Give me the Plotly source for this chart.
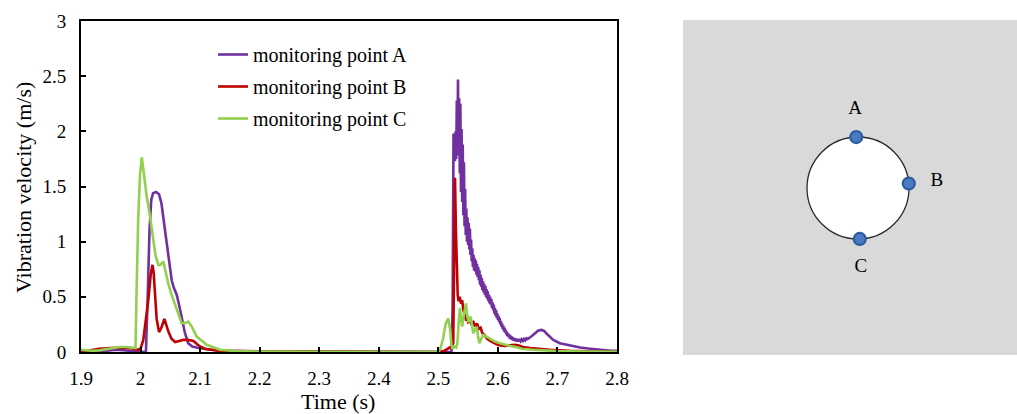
import math
import plotly.graph_objects as go

# ---------------- data ----------------
x_tick_vals = [1.9, 2.0, 2.1, 2.2, 2.3, 2.4, 2.5, 2.6, 2.7, 2.8]
x_tick_text = ["1.9", "2", "2.1", "2.2", "2.3", "2.4", "2.5", "2.6", "2.7", "2.8"]
y_tick_vals = [0, 0.5, 1, 1.5, 2, 2.5, 3]
y_tick_text = ["0", "0.5", "1", "1.5", "2", "2.5", "3"]

series_names = ["monitoring point A", "monitoring point B", "monitoring point C"]

t_a = [1.900, 1.930, 1.960, 1.980, 1.995, 2.000, 2.009, 2.012, 2.015, 2.018, 2.021, 2.026,
       2.031, 2.035, 2.038, 2.042, 2.0466, 2.050, 2.0523, 2.056, 2.0607, 2.065, 2.069, 2.0746,
       2.080, 2.087, 2.094, 2.105, 2.117, 2.140, 2.200, 2.300, 2.400, 2.500, 2.522, 2.524, 2.5255,
       2.526, 2.527, 2.528, 2.529, 2.530, 2.531, 2.532, 2.533, 2.534, 2.535, 2.536, 2.537,
       2.538, 2.539, 2.540, 2.541, 2.542, 2.543, 2.544, 2.545, 2.546, 2.547, 2.548, 2.549,
       2.550, 2.551, 2.552, 2.553, 2.554, 2.555, 2.556, 2.557, 2.558, 2.559,
       2.560, 2.561, 2.562, 2.563, 2.564, 2.565, 2.566, 2.567, 2.568, 2.569,
       2.570, 2.571, 2.572, 2.573, 2.574, 2.575, 2.576, 2.577, 2.578, 2.579,
       2.580, 2.581, 2.582, 2.583, 2.584, 2.585, 2.586, 2.587, 2.588, 2.589,
       2.590, 2.591, 2.592, 2.593, 2.594, 2.595, 2.596, 2.597, 2.598, 2.599,
       2.600, 2.601, 2.602, 2.603, 2.604, 2.605, 2.606, 2.607, 2.608, 2.609,
       2.610, 2.611, 2.612, 2.613, 2.614, 2.615, 2.616, 2.617, 2.618, 2.619,
       2.620, 2.621, 2.622, 2.623, 2.624, 2.625, 2.626, 2.627, 2.628, 2.629,
       2.630, 2.632, 2.634, 2.636, 2.638, 2.640, 2.642, 2.644, 2.646, 2.648, 2.650,
       2.656, 2.662, 2.668, 2.6735, 2.678, 2.682, 2.688, 2.693, 2.704, 2.721, 2.738, 2.755,
       2.771, 2.790, 2.800]
v_a = [0.000, 0.005, 0.020, 0.010, 0.005, 0.000, 0.000, 0.500, 1.100, 1.380, 1.440, 1.450,
       1.430, 1.350, 1.230, 1.080, 0.920, 0.750, 0.650, 0.580, 0.520, 0.420, 0.320, 0.170,
       0.080, 0.050, 0.040, 0.030, 0.020, 0.012, 0.006, 0.004, 0.003, 0.002, 0.000, 0.400, 1.980,
       1.740, 1.980, 1.730, 2.000, 1.750, 2.280, 1.780, 2.470, 1.800, 2.300, 1.620, 2.250,
       1.450, 2.020, 1.360, 1.880, 1.240, 1.720, 1.140, 1.480, 1.060, 1.300, 1.000, 1.220,
       0.970, 1.170, 0.930, 1.120, 0.880, 1.020, 0.820, 0.940, 0.770, 0.880,
       0.740, 0.850, 0.730, 0.830, 0.700, 0.800, 0.680, 0.770, 0.650, 0.740,
       0.610, 0.700, 0.590, 0.670, 0.560, 0.640, 0.540, 0.620, 0.520, 0.600,
       0.500, 0.570, 0.480, 0.550, 0.460, 0.520, 0.440, 0.500, 0.430, 0.480,
       0.400, 0.450, 0.380, 0.430, 0.350, 0.400, 0.330, 0.380, 0.310, 0.350,
       0.290, 0.330, 0.270, 0.310, 0.250, 0.280, 0.230, 0.260, 0.210, 0.240,
       0.190, 0.220, 0.175, 0.200, 0.160, 0.185, 0.145, 0.170, 0.135, 0.160,
       0.120, 0.150, 0.115, 0.140, 0.108, 0.135, 0.104, 0.128, 0.100, 0.124,
       0.097, 0.118, 0.096, 0.116, 0.098, 0.115, 0.100, 0.118, 0.106, 0.124, 0.118,
       0.140, 0.170, 0.195, 0.200, 0.190, 0.165, 0.135, 0.110, 0.080, 0.057, 0.040, 0.030,
       0.020, 0.012, 0.010]

t_b = [1.900, 1.910, 1.920, 1.930, 1.950, 1.970, 1.985, 1.995, 2.000, 2.0046, 2.009, 2.013,
       2.017, 2.020, 2.022, 2.024, 2.027, 2.031, 2.035, 2.040, 2.043, 2.047, 2.052, 2.058,
       2.065, 2.072, 2.080, 2.089, 2.095, 2.100, 2.108, 2.117, 2.130, 2.160, 2.200, 2.300,
       2.400, 2.500, 2.510, 2.516, 2.522, 2.525, 2.5265, 2.528, 2.5295, 2.531, 2.5325, 2.534,
       2.536, 2.538, 2.540, 2.542, 2.544, 2.546, 2.548, 2.550, 2.553, 2.556, 2.559, 2.562,
       2.565, 2.568, 2.571, 2.574, 2.578, 2.582, 2.587, 2.592, 2.598, 2.604, 2.612, 2.620,
       2.628, 2.634, 2.642, 2.654, 2.670, 2.688, 2.720, 2.760, 2.800]
v_b = [0.000, 0.010, 0.025, 0.030, 0.035, 0.040, 0.035, 0.020, 0.030, 0.110, 0.300, 0.470,
       0.700, 0.790, 0.720, 0.500, 0.300, 0.180, 0.220, 0.300, 0.250, 0.180, 0.120, 0.090,
       0.100, 0.110, 0.110, 0.100, 0.070, 0.050, 0.030, 0.020, 0.012, 0.008, 0.005, 0.003,
       0.002, 0.000, 0.010, 0.030, 0.050, 0.080, 0.900, 1.580, 1.100, 0.700, 0.520, 0.460,
       0.500, 0.440, 0.470, 0.380, 0.340, 0.300, 0.310, 0.270, 0.280, 0.250, 0.270, 0.230,
       0.260, 0.210, 0.220, 0.170, 0.150, 0.120, 0.100, 0.085, 0.070, 0.060, 0.055, 0.060,
       0.065, 0.060, 0.045, 0.035, 0.025, 0.020, 0.010, 0.004, 0.000]

t_c = [1.900, 1.910, 1.920, 1.930, 1.940, 1.955, 1.965, 1.975, 1.985, 1.9915, 1.9935, 1.996,
       1.999, 2.002, 2.006, 2.010, 2.0159, 2.020, 2.025, 2.0298, 2.033, 2.0382, 2.042, 2.0466,
       2.052, 2.0607, 2.0691, 2.074, 2.0802, 2.086, 2.0943, 2.1111, 2.1334, 2.160, 2.200,
       2.300, 2.400, 2.500, 2.5028, 2.508, 2.512, 2.5167, 2.520, 2.522, 2.524, 2.527, 2.530,
       2.532, 2.5345, 2.5363, 2.538, 2.540, 2.543, 2.5464, 2.548, 2.5503, 2.5523, 2.5543,
       2.5565, 2.5587, 2.5615, 2.5644, 2.5665, 2.5688, 2.572, 2.5755, 2.581, 2.5867, 2.595,
       2.6035, 2.612, 2.6203, 2.630, 2.640, 2.660, 2.680, 2.700, 2.750, 2.800]
v_c = [0.020, 0.015, 0.010, 0.015, 0.025, 0.035, 0.045, 0.045, 0.040, 0.035, 0.600, 1.200,
       1.600, 1.765, 1.600, 1.420, 1.230, 1.050, 0.880, 0.790, 0.790, 0.820, 0.720, 0.620,
       0.520, 0.380, 0.260, 0.260, 0.275, 0.230, 0.140, 0.065, 0.020, 0.008, 0.004,
       0.002, 0.001, 0.000, 0.020, 0.120, 0.250, 0.305, 0.200, 0.060, 0.030, 0.050, 0.040,
       0.080, 0.300, 0.400, 0.300, 0.230, 0.340, 0.440, 0.350, 0.270, 0.300, 0.320,
       0.240, 0.170, 0.200, 0.230, 0.150, 0.080, 0.120, 0.155, 0.140, 0.120, 0.095,
       0.080, 0.065, 0.055, 0.045, 0.030, 0.020, 0.012, 0.008, 0.004, 0.002]

# right-hand diagram: monitoring point positions on the tunnel section (angle, degrees)
point_labels = ["A", "B", "C"]
point_angles = [92, 5, -88]

# ---------------- styles ----------------
colors = ["#7030A0", "#C00000", "#92D050"]
FONT = "Liberation Serif, Times New Roman, serif"
W, H = 1017, 414

fig = go.Figure()
for name, t, v, c in zip(series_names, [t_a, t_b, t_c], [v_a, v_b, v_c], colors):
    fig.add_trace(go.Scatter(x=t, y=v, mode="lines", name=name,
                             line=dict(color=c, width=2.6), legendgroup=name,
                             xaxis="x", yaxis="y"))

# diagram: points on unit circle
R_MARK = 1.0
R_LABEL = 1.55
px_ = [R_MARK * math.cos(math.radians(a)) for a in point_angles]
py_ = [R_MARK * math.sin(math.radians(a)) for a in point_angles]
lx = [R_LABEL * math.cos(math.radians(a)) for a in point_angles]
ly = [R_LABEL * math.sin(math.radians(a)) for a in point_angles]

fig.add_trace(go.Scatter(x=px_, y=py_, mode="markers", showlegend=False,
                         marker=dict(size=12, color="#4A7BC2",
                                     line=dict(color="#2F5C9E", width=2.2)),
                         xaxis="x2", yaxis="y2"))
fig.add_trace(go.Scatter(x=lx, y=ly, mode="text", text=point_labels, showlegend=False,
                         textfont=dict(family=FONT, size=19, color="black"),
                         textposition="middle center",
                         xaxis="x2", yaxis="y2"))

# geometry
xl, xr, yt, yb = 81, 617, 21, 352
pl, pr, pt, pb = 683, 1017, 20, 355
R_px = 51
cx, cy = 858, 188

fig.update_layout(
    width=W, height=H,
    margin=dict(l=0, r=0, t=0, b=0),
    paper_bgcolor="white", plot_bgcolor="white",
    font=dict(family=FONT, size=19, color="black"),
    xaxis=dict(domain=[xl / W, xr / W], range=[1.9, 2.8], tickvals=x_tick_vals,
               ticktext=x_tick_text, ticks="inside", ticklen=5, tickwidth=1.5,
               tickcolor="black", showline=True, linecolor="black", linewidth=2,
               mirror=True, showgrid=False, zeroline=False, automargin=False,
               ticklabelstandoff=8, tickfont=dict(family=FONT, size=19)),
    yaxis=dict(domain=[1 - yb / H, 1 - yt / H], range=[0, 3], tickvals=y_tick_vals,
               ticktext=y_tick_text, ticks="inside", ticklen=5, tickwidth=1.5,
               tickcolor="black", showline=True, linecolor="black", linewidth=2,
               mirror=True, showgrid=False, zeroline=False, automargin=False,
               ticklabelstandoff=9, tickfont=dict(family=FONT, size=19)),
    xaxis2=dict(domain=[pl / W, pr / W],
                range=[-(cx - pl) / R_px, (pr - cx) / R_px],
                visible=False, fixedrange=True),
    yaxis2=dict(domain=[1 - pb / H, 1 - pt / H],
                range=[-(pb - cy) / R_px, (cy - pt) / R_px],
                visible=False, fixedrange=True),
    legend=dict(x=213 / W, y=1 - 35 / H, xanchor="left", yanchor="top",
                bgcolor="rgba(0,0,0,0)", font=dict(family=FONT, size=20),
                tracegroupgap=3, itemwidth=30),
    showlegend=True,
    shapes=[
        dict(type="rect", xref="x2 domain", yref="y2 domain", x0=0, x1=1, y0=0, y1=1,
             fillcolor="#D9D9D9", line=dict(width=0), layer="below"),
        dict(type="circle", xref="x2", yref="y2", x0=-1, x1=1, y0=-1, y1=1,
             fillcolor="white", line=dict(color="#2A2A2A", width=1.3), layer="below"),
    ],
    annotations=[
        dict(text="Time (s)", xref="paper", yref="paper", x=338 / W, y=1 - 401 / H,
             showarrow=False, font=dict(family=FONT, size=22), xanchor="center",
             yanchor="middle"),
        dict(text="Vibration velocity (m/s)", xref="paper", yref="paper", x=23 / W,
             y=1 - 188 / H, showarrow=False, textangle=-90,
             font=dict(family=FONT, size=22), xanchor="center", yanchor="middle"),
    ],
)

fig.write_html("out.html")
